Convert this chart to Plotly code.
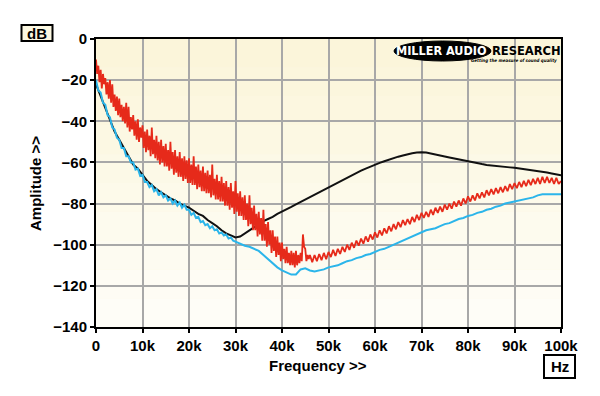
import plotly.graph_objects as go

# ---------------- data ----------------
# red trace: 0-46 kHz read every 0.25 kHz, 46.5-100 kHz every 0.5 kHz
red_db_low = [
    -10, -17, -13, -21,
    -15, -24, -17, -22,
    -19, -27, -21, -29,
    -20, -31, -22, -33,
    -27, -35, -28, -37,
    -29, -38, -32, -40,
    -33, -41, -31, -43,
    -33, -45, -38, -44,
    -37, -47, -40, -49,
    -39, -50, -43, -48,
    -42, -53, -45, -55,
    -44, -54, -47, -57,
    -43, -56, -49, -58,
    -47, -59, -50, -61,
    -49, -60, -52, -62,
    -51, -62, -54, -64,
    -50, -63, -55, -66,
    -54, -65, -57, -67,
    -55, -67, -58, -69,
    -57, -68, -59, -70,
    -58, -70, -61, -71,
    -57, -71, -62, -73,
    -61, -72, -64, -74,
    -62, -74, -65, -75,
    -64, -75, -66, -77,
    -61, -76, -68, -78,
    -66, -78, -69, -79,
    -67, -79, -70, -81,
    -69, -81, -72, -83,
    -70, -82, -74, -85,
    -69, -84, -75, -86,
    -74, -86, -77, -88,
    -76, -88, -80, -91,
    -76, -90, -82, -93,
    -81, -93, -85, -96,
    -84, -95, -87, -98,
    -83, -98, -90, -101,
    -89, -100, -93, -104,
    -93, -103, -96, -106,
    -96, -105, -99, -108,
    -99, -107, -102, -109,
    -101, -109, -104, -110,
    -103, -110, -104, -111,
    -103, -110, -105, -109,
    -104, -108, -95, -101,
    -102, -108, -105, -107,
    -105,
]
red_db_high = [
    -108.5, -105, -108, -104.5, -107.5, -104, -107,
    -103.5, -106, -102.5, -105.5, -102, -104.5, -101, -103.5, -100, -102.5,
    -99, -101.5, -98, -100.5, -97, -99.5, -96, -98.5, -95, -97.5,
    -94, -96.5, -93, -95.5, -92, -94.5, -91, -93.5, -90, -92.5,
    -89, -91.5, -88, -90.5, -87.5, -90, -86.5, -89, -85.5, -88,
    -84.5, -87, -84, -86.5, -83, -85.5, -82, -84.5, -81.5, -84,
    -80.5, -83, -80, -82.5, -79, -81.5, -78.5, -81, -77.5, -80,
    -76.5, -79, -76, -78.5, -75, -77.5, -74.5, -77, -73.5, -76,
    -73, -75.5, -72.5, -75, -72, -74.5, -71.5, -74, -70.5, -73,
    -70, -72.5, -69.5, -72, -69, -71.5, -68.5, -71, -68, -70.5,
    -67.5, -70.5, -67, -70, -67, -70, -67.5, -70.5, -67.5, -70.5,
    -69,
]
red_khz = [i * 0.25 for i in range(len(red_db_low))] + \
          [46.5 + i * 0.5 for i in range(len(red_db_high))]
red_db = red_db_low + red_db_high

blue_khz = [i * 0.5 for i in range(61)] + list(range(31, 101))
blue_db = [
    -20, -25, -26, -31, -32, -37, -38, -43, -44, -48,
    -49, -53, -53, -57, -57, -60, -60, -63.5, -63, -66.5,
    -66, -69.5, -69.5, -72, -71, -74, -73, -76, -74.5, -77,
    -76, -78.5, -77.5, -80, -78.5, -81, -79.5, -82, -80.5, -83,
    -83, -85.5, -84.5, -87, -86.5, -89, -88.5, -90.5, -90, -92,
    -91, -93, -92.5, -94.5, -94, -95.5, -95, -97, -96.5, -98,
    -98.5,
    -99.5, -100.5, -101, -102, -103, -105, -107, -109, -111, -112.5,
    -113.5, -114.5, -114.5, -112, -111.5, -112.5, -113, -112.5, -112, -111,
    -110.5, -110, -109, -108, -107.5, -106.5, -106, -105, -104.5, -103.5,
    -102.5, -102, -101, -100, -99, -98, -97, -96, -95, -94,
    -93, -92.5, -92, -91, -90, -89.5, -88.5, -87.5, -87, -86,
    -85.5, -84.5, -84, -83, -82.5, -81.5, -81, -80, -79.5, -79,
    -78.5, -78, -77.5, -77, -76, -75.5, -75.5, -75.5, -75.5, -75.5,
]

black_khz = list(range(0, 101))
black_db = [
    -22, -28, -34, -40, -45, -49, -53, -57, -61, -63,
    -66, -69, -71, -73, -74.5, -76, -77.5, -78.5, -80, -81,
    -82, -83.5, -85, -86, -88, -89.5, -91, -93, -94.5, -95.5,
    -96.5, -96, -94.5, -93, -91.5, -90, -88.5, -87.5, -86.5, -85,
    -84, -82.8, -81.6, -80.4, -79.2, -78, -76.8, -75.6, -74.4, -73.2,
    -72, -70.8, -69.6, -68.4, -67.3, -66.2, -65.1, -64, -63, -62,
    -61, -60.2, -59.4, -58.6, -57.9, -57.2, -56.6, -56, -55.5, -55.2,
    -55, -55.2, -55.6, -56.1, -56.6, -57.1, -57.6, -58.1, -58.6, -59.1,
    -59.6, -60, -60.4, -60.8, -61.2, -61.5, -61.8, -62, -62.2, -62.4,
    -62.6, -62.9, -63.2, -63.5, -63.8, -64.1, -64.4, -64.9, -65.4, -65.9,
    -66.3,
]

x_tickvals = [0, 10, 20, 30, 40, 50, 60, 70, 80, 90, 100]
x_ticktext = ["0", "10k", "20k", "30k", "40k", "50k", "60k", "70k", "80k", "90k", "100k"]
y_tickvals = [0, -20, -40, -60, -80, -100, -120, -140]

# ---------------- figure ----------------
FONT = "Liberation Sans, Arial, sans-serif"
# page body adds an 8px offset; the figure is sized so the plot lands at x 96-561, y 39-327
OFF = 8
PL, PT, PW, PH = 96, 39, 465, 288


def px(x):
    return (x - PL) / PW


def py(y):
    return (PT + PH - y) / PH


fig = go.Figure()
fig.add_trace(go.Scatter(x=black_khz, y=black_db, mode="lines",
                         line=dict(color="#111111", width=2), hoverinfo="skip"))
fig.add_trace(go.Scatter(x=blue_khz, y=blue_db, mode="lines",
                         line=dict(color="#2bb5ea", width=2), hoverinfo="skip"))
fig.add_trace(go.Scatter(x=red_khz, y=red_db, mode="lines",
                         line=dict(color="#e62a1a", width=1.8), hoverinfo="skip"))

axis_common = dict(
    showline=True, linecolor="black", linewidth=2, mirror=True,
    showgrid=True, gridcolor="#a8a8a8", gridwidth=1.5,
    ticks="outside", ticklen=4, tickcolor="black", tickwidth=1.5,
    zeroline=False,
    tickfont=dict(family=FONT, size=15, color="black", weight="bold"),
)

fig.update_layout(
    width=600 - OFF, height=396 - OFF,
    margin=dict(l=PL - OFF, r=600 - PL - PW, t=PT - OFF, b=396 - PT - PH),
    paper_bgcolor="white",
    plot_bgcolor="#fcf8e4",
    showlegend=False,
    xaxis=dict(range=[0, 100], tickvals=x_tickvals, ticktext=x_ticktext, **axis_common),
    yaxis=dict(range=[-140, 0], tickvals=y_tickvals, **axis_common),
)

# background gradient (cream top -> lighter bottom)
bands = ["#fbf5da", "#fbf6dd", "#fcf7e0", "#fcf8e3", "#fcf9e7", "#fdfaea",
         "#fdfbee", "#fdfbf1", "#fefcf4", "#fefdf7"]
for i, c in enumerate(bands):
    fig.add_shape(type="rect", xref="paper", yref="paper",
                  x0=0, x1=1, y0=1 - (i + 1) / len(bands), y1=1 - i / len(bands),
                  fillcolor=c, line=dict(width=0), layer="below")

# axis titles
fig.add_annotation(text="Frequency >>", xref="paper", yref="paper", x=px(318), y=py(365),
                   showarrow=False, font=dict(family=FONT, size=15, color="black", weight="bold"),
                   xanchor="center", yanchor="middle")
fig.add_annotation(text="Amplitude >>", xref="paper", yref="paper", x=px(35), y=py(183),
                   showarrow=False, textangle=-90,
                   font=dict(family=FONT, size=15, color="black", weight="bold"),
                   xanchor="center", yanchor="middle")

# dB box
fig.add_shape(type="rect", xref="paper", yref="paper",
              x0=px(21.5), x1=px(52.5), y0=py(41), y1=py(25),
              fillcolor="#fcf8e2", line=dict(color="black", width=2))
fig.add_annotation(text="dB", xref="paper", yref="paper",
                   x=px(37), y=py(33), showarrow=False, xanchor="center", yanchor="middle",
                   font=dict(family=FONT, size=15, color="black", weight="bold"))
# Hz box
fig.add_shape(type="rect", xref="paper", yref="paper",
              x0=px(544), x1=px(575), y0=py(378), y1=py(355),
              fillcolor="white", line=dict(color="black", width=2))
fig.add_annotation(text="Hz", xref="paper", yref="paper",
                   x=px(559.5), y=py(366.5), showarrow=False, xanchor="center", yanchor="middle",
                   font=dict(family=FONT, size=15, color="black", weight="bold"))

# logo
fig.add_shape(type="circle", xref="paper", yref="paper",
              x0=px(394), x1=px(491), y0=py(61), y1=py(41),
              fillcolor="black", line=dict(color="black", width=1))
fig.add_annotation(text="MILLER AUDIO", xref="paper", yref="paper",
                   x=px(489), y=py(51), showarrow=False,
                   xanchor="right", yanchor="middle",
                   font=dict(family="DejaVu Sans Condensed, DejaVu Sans, sans-serif", size=12.5,
                             color="white", weight="bold"))
fig.add_annotation(text="RESEARCH", xref="paper", yref="paper",
                   x=px(490), y=py(51), showarrow=False,
                   xanchor="left", yanchor="middle",
                   font=dict(family="DejaVu Sans, sans-serif", size=11.5, color="black", weight="bold"))
fig.add_annotation(text="<i>Getting the measure of sound quality</i>", xref="paper", yref="paper",
                   x=px(559), y=py(60.5), showarrow=False,
                   xanchor="right", yanchor="middle",
                   font=dict(family="DejaVu Sans Condensed, sans-serif", size=4.5, color="black", weight="bold"))

fig.write_html("out.html")
